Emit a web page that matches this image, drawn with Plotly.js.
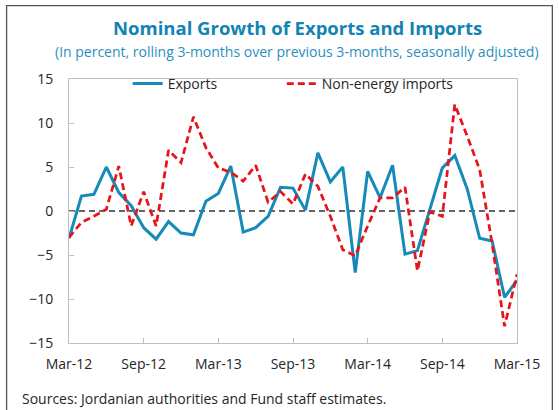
<!DOCTYPE html>
<html>
<head>
<meta charset="utf-8">
<script src="https://cdn.plot.ly/plotly-3.0.1.min.js"></script>
<style>html,body{margin:0;padding:0;background:#fff;}#chart{width:559px;height:410px;}</style>
</head>
<body>
<div id="chart"></div>
<script>
// ---- data ----
const months = ["Mar-12","Apr-12","May-12","Jun-12","Jul-12","Aug-12","Sep-12","Oct-12","Nov-12","Dec-12","Jan-13","Feb-13",
"Mar-13","Apr-13","May-13","Jun-13","Jul-13","Aug-13","Sep-13","Oct-13","Nov-13","Dec-13","Jan-14","Feb-14",
"Mar-14","Apr-14","May-14","Jun-14","Jul-14","Aug-14","Sep-14","Oct-14","Nov-14","Dec-14","Jan-15","Feb-15","Mar-15"];
const exportsGrowth = [-3.1, 1.7, 1.9, 5.0, 2.1, 0.6, -1.9, -3.2, -1.2, -2.5, -2.7, 1.1,
  2.0, 5.1, -2.4, -1.9, -0.6, 2.7, 2.6, 0.1, 6.6, 3.3, 5.0, -7.0,
  4.5, 1.5, 5.2, -4.9, -4.5, 0.1, 4.9, 6.3, 2.5, -3.1, -3.4, -9.8, -7.9];
const importsGrowth = [-3.0, -1.3, -0.6, 0.2, 5.1, -1.7, 2.2, -1.7, 6.9, 5.5, 10.7, 7.2,
  4.9, 4.4, 3.4, 5.2, 1.0, 2.2, 0.8, 4.2, 2.8, -0.6, -4.4, -5.1,
  -1.7, 1.5, 1.5, 2.7, -6.8, -0.1, -0.6, 12.1, 8.5, 4.7, -3.7, -13.1, -7.2];
const xTickVals = ["Mar-12","Sep-12","Mar-13","Sep-13","Mar-14","Sep-14","Mar-15"];
const yTickVals = [-15, -10, -5, 0, 5, 10, 15];
const seriesNames = ["Exports", "Non-energy imports"];

const FONT = "'Open Sans', 'Noto Sans', sans-serif";
const TEAL = "#1183b4";

const traces = [
  {x: months, y: exportsGrowth, name: seriesNames[0], type: "scatter", mode: "lines", legend: "legend",
   line: {color: "#168ab8", width: 3}},
  {x: months, y: importsGrowth, name: seriesNames[1], type: "scatter", mode: "lines", legend: "legend2",
   line: {color: "#e8141c", width: 2.75, dash: "7px,4px"}}
];

const legendBase = {orientation: "h", xanchor: "left", y: 0.981, yanchor: "middle",
  bgcolor: "rgba(0,0,0,0)", font: {family: FONT, size: 14, color: "#262626"}, itemwidth: 30};

const layout = {
  width: 559, height: 410,
  margin: {l: 69, r: 42, t: 79, b: 67, pad: 0},
  paper_bgcolor: "#fff", plot_bgcolor: "#fff",
  font: {family: FONT, size: 14, color: "#262626"},
  showlegend: true,
  legend: Object.assign({}, legendBase, {x: 0.131}),
  legend2: Object.assign({}, legendBase, {x: 0.475}),
  xaxis: {type: "category", range: [0, 36], tickmode: "array", tickvals: xTickVals, ticktext: xTickVals,
    showline: true, linecolor: "#bfbfbf", linewidth: 1, mirror: true,
    ticks: "inside", ticklen: 5, tickcolor: "#bfbfbf", showgrid: false, zeroline: false,
    ticklabelstandoff: 8, tickfont: {family: FONT, size: 14, color: "#262626"}},
  yaxis: {range: [-15, 15], tickmode: "array", tickvals: yTickVals,
    showline: true, linecolor: "#bfbfbf", linewidth: 1, mirror: true,
    ticks: "inside", ticklen: 5, tickcolor: "#bfbfbf", showgrid: false, zeroline: false,
    ticklabelstandoff: 12, tickfont: {family: FONT, size: 14, color: "#262626"}},
  shapes: [
    {type: "line", xref: "paper", x0: 0, x1: 1, yref: "y", y0: 0, y1: 0,
     line: {color: "#333", width: 1.5, dash: "6px,4px"}, layer: "below"},
    {type: "rect", xref: "paper", yref: "paper", x0: -0.1393, x1: 1.0789, y0: -0.27, y1: 1.2777,
     line: {color: "#555", width: 1.3}, fillcolor: "rgba(0,0,0,0)"}
  ],
  annotations: [
    {text: "<b>Nominal Growth of Exports and Imports</b>", xref: "paper", yref: "paper",
     x: 0.509, y: 1.196, xanchor: "center", yanchor: "middle", showarrow: false,
     font: {family: FONT, size: 18.5, color: TEAL}},
    {text: "(In percent, rolling 3-months over previous 3-months, seasonally adjusted)", xref: "paper", yref: "paper",
     x: 0.509, y: 1.105, xanchor: "center", yanchor: "middle", showarrow: false,
     font: {family: FONT, size: 14, color: "#2a8fbd"}},
    {text: "Sources: Jordanian authorities and Fund staff estimates.", xref: "paper", yref: "paper",
     x: -0.1102, y: -0.211, xanchor: "left", yanchor: "middle", showarrow: false,
     font: {family: FONT, size: 14, color: "#262626"}}
  ]
};

Plotly.newPlot("chart", traces, layout, {displayModeBar: false, staticPlot: true});
</script>
</body>
</html>
